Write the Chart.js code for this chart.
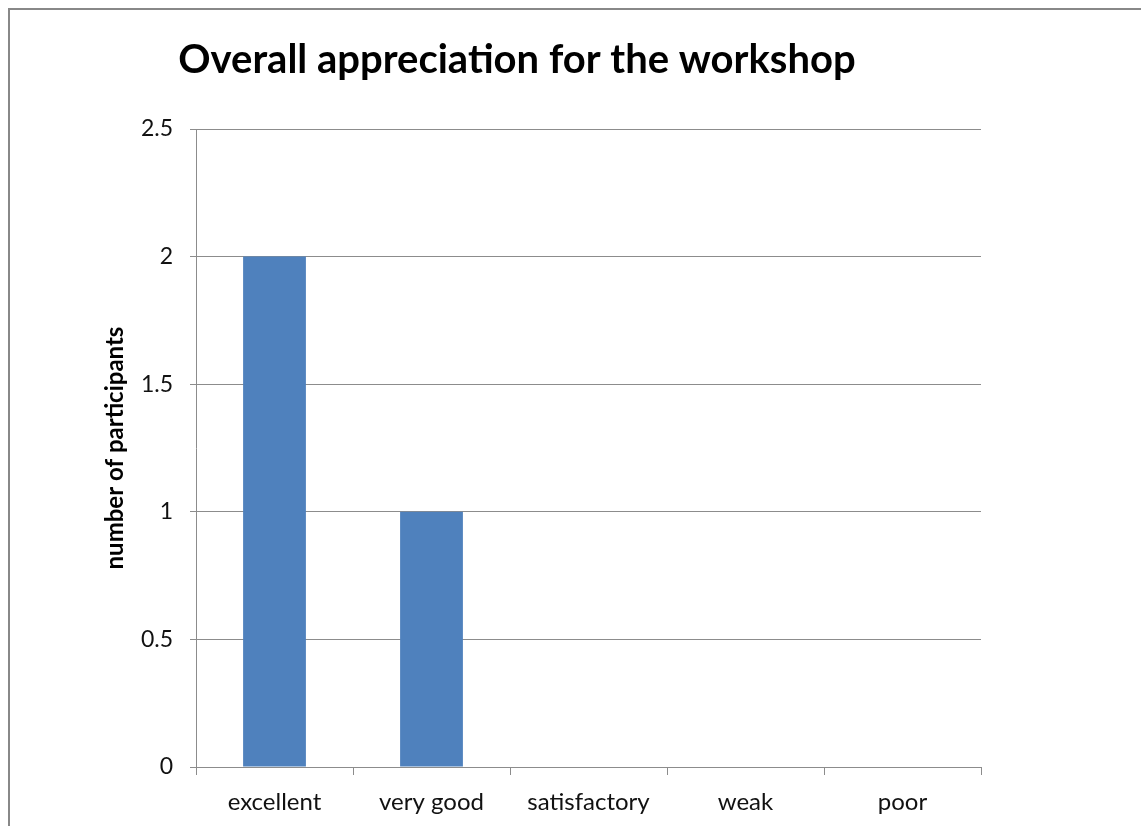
<!DOCTYPE html>
<html>
<head>
<meta charset="utf-8">
<script src="https://cdn.jsdelivr.net/npm/chart.js@4.4.1/dist/chart.umd.min.js"></script>
<style>
  html, body { margin: 0; padding: 0; background: #fff; overflow: hidden; }
  #wrap { position: relative; width: 1141px; height: 826px; }
  #frame {
    position: absolute; left: 8px; top: 8px; width: 1300px; height: 1000px;
    border-left: 2px solid #888; border-top: 2px solid #888;
  }
  canvas { position: absolute; left: 0; top: 0; }
</style>
</head>
<body>
<div id="wrap">
  <div id="frame"></div>
  <canvas id="chart" width="1141" height="826"></canvas>
</div>
<script>
// Survey answers: how participants rated the workshop overall
const ratings = ['excellent', 'very good', 'satisfactory', 'weak', 'poor'];
const participants = [2, 1, 0, 0, 0];
const yTicks = [0, 0.5, 1, 1.5, 2, 2.5];

const FONT = 'Lato, "Open Sans", sans-serif';
const AXIS_GRAY = '#8c8c8c';

new Chart(document.getElementById('chart'), {
  type: 'bar',
  data: {
    labels: ratings,
    datasets: [{
      label: 'number of participants',
      data: participants,
      backgroundColor: '#4f81bd',
      borderWidth: 0,
      categoryPercentage: 1,
      barPercentage: 0.4
    }]
  },
  options: {
    responsive: false,
    animation: false,
    layout: { padding: { left: 53, right: 160, top: 0, bottom: 0 } },
    plugins: {
      legend: { display: false },
      tooltip: { enabled: false },
      title: {
        display: true,
        text: 'Overall appreciation for the workshop',
        color: '#000',
        font: { family: FONT, size: 40, weight: 'bold', lineHeight: 1.2 },
        padding: { top: 36, bottom: 45 }
      }
    },
    scales: {
      x: {
        offset: true,
        grid: {
          offset: true,
          drawOnChartArea: false,
          drawTicks: true,
          tickLength: 8,
          color: AXIS_GRAY
        },
        border: { display: true, color: AXIS_GRAY, width: 1 },
        ticks: {
          color: '#111',
          padding: 13,
          maxRotation: 0,
          font: { family: FONT, size: 24 }
        },
        afterFit: (scale) => { scale.height = 59; }
      },
      y: {
        min: 0,
        max: 2.5,
        afterBuildTicks: (scale) => { scale.ticks = yTicks.map(v => ({ value: v })); },
        grid: {
          color: AXIS_GRAY,
          drawTicks: true,
          tickLength: 6
        },
        border: { display: true, color: AXIS_GRAY, width: 1 },
        ticks: {
          color: '#111',
          padding: 17,
          font: { family: FONT, size: 23 },
          callback: (v) => String(v)
        },
        title: {
          display: true,
          text: 'number of participants',
          color: '#000',
          font: { family: FONT, size: 24, weight: 'bold', lineHeight: 1.2 },
          padding: { top: 48, bottom: 0 }
        },
        afterFit: (scale) => { scale.width = 143; }
      }
    }
  }
});
</script>
</body>
</html>
